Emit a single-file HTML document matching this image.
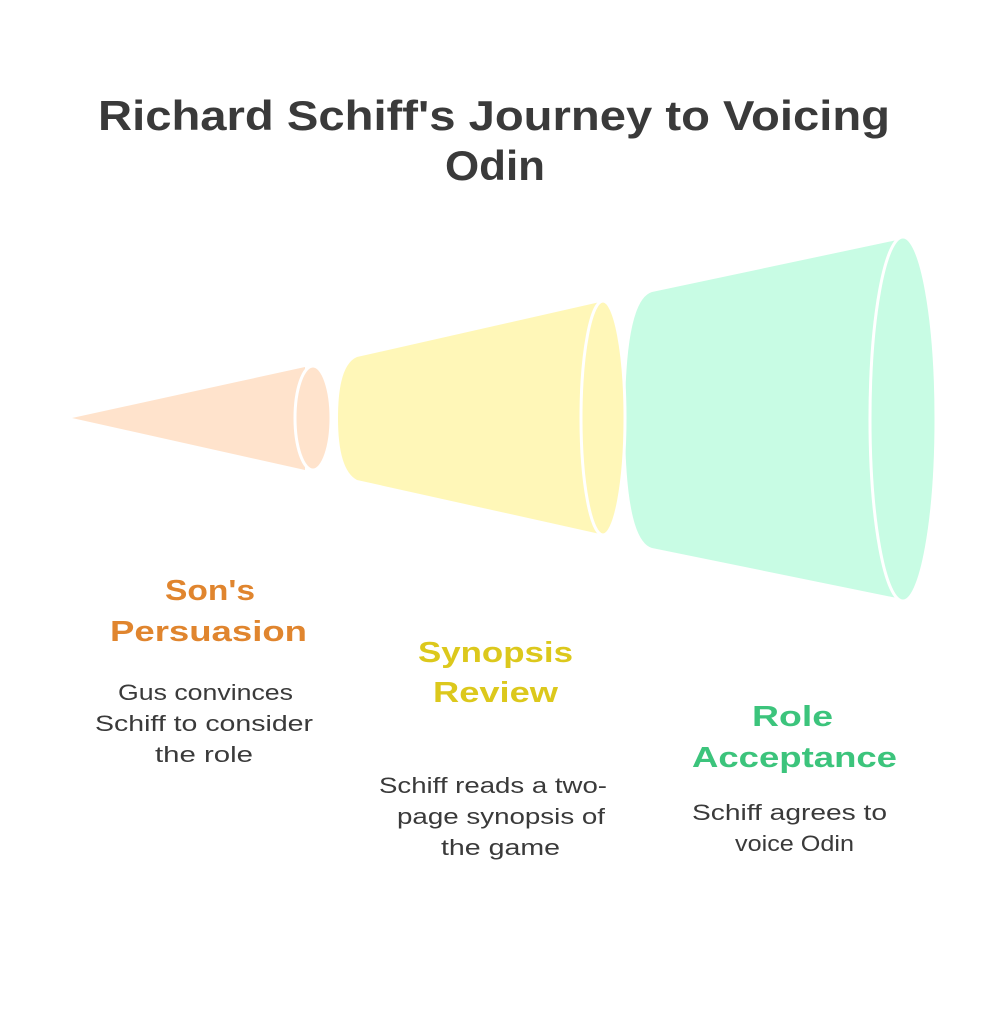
<!DOCTYPE html>
<html><head><meta charset="utf-8"><style>
html,body{margin:0;padding:0;background:#fff;}
svg{display:block;}
text{font-family:"Liberation Sans",sans-serif;}
.t{font-weight:bold;fill:#3a3a3a;font-size:42px;}
.h{font-weight:bold;font-size:29px;}
.b{fill:#3a3a3a;font-size:22px;}
</style></head><body>
<svg width="1003" height="1024" viewBox="0 0 1003 1024" xmlns="http://www.w3.org/2000/svg">
<rect width="1003" height="1024" fill="#fff"/>
<!-- cone 3 -->
<path d="M652,292 L897,240 L897,598 L652,548 Q625,540 625,420 Q625,300 652,292 Z" fill="#c8fce4"/>
<ellipse cx="903" cy="419" rx="33" ry="182" fill="#c8fce4" stroke="#fff" stroke-width="3"/>
<!-- cone 2 -->
<path d="M357,357 L600,302 L600,534 L357,480 Q338,470 338,418 Q338,365 357,357 Z" fill="#fff7b8"/>
<ellipse cx="603" cy="418" rx="22" ry="117" fill="#fff7b8" stroke="#fff" stroke-width="3"/>
<!-- cone 1 -->
<path d="M72,418 L305,367 L305,470 Z" fill="#ffe3cc"/>
<ellipse cx="313" cy="418" rx="18" ry="52" fill="#ffe3cc" stroke="#fff" stroke-width="3"/>
<!-- title -->
<text class="t" x="98" y="130" textLength="792" lengthAdjust="spacingAndGlyphs">Richard Schiff's Journey to Voicing</text>
<text class="t" x="445" y="180" textLength="100" lengthAdjust="spacingAndGlyphs">Odin</text>
<!-- labels -->
<text class="h" fill="#e0852e" x="165" y="600" textLength="90" lengthAdjust="spacingAndGlyphs">Son's</text>
<text class="h" fill="#e0852e" x="110" y="641" textLength="197" lengthAdjust="spacingAndGlyphs">Persuasion</text>
<text class="b" x="118" y="700" textLength="175" lengthAdjust="spacingAndGlyphs">Gus convinces</text>
<text class="b" x="95" y="731" textLength="218" lengthAdjust="spacingAndGlyphs">Schiff to consider</text>
<text class="b" x="155" y="762" textLength="98" lengthAdjust="spacingAndGlyphs">the role</text>

<text class="h" fill="#dcc81c" x="418" y="662" textLength="155" lengthAdjust="spacingAndGlyphs">Synopsis</text>
<text class="h" fill="#dcc81c" x="433" y="702" textLength="125" lengthAdjust="spacingAndGlyphs">Review</text>
<text class="b" x="379" y="793" textLength="228" lengthAdjust="spacingAndGlyphs">Schiff reads a two-</text>
<text class="b" x="397" y="824" textLength="208" lengthAdjust="spacingAndGlyphs">page synopsis of</text>
<text class="b" x="441" y="855" textLength="119" lengthAdjust="spacingAndGlyphs">the game</text>

<text class="h" fill="#3cc47c" x="752" y="726" textLength="81" lengthAdjust="spacingAndGlyphs">Role</text>
<text class="h" fill="#3cc47c" x="692" y="767" textLength="205" lengthAdjust="spacingAndGlyphs">Acceptance</text>
<text class="b" x="692" y="820" textLength="195" lengthAdjust="spacingAndGlyphs">Schiff agrees to</text>
<text class="b" x="735" y="851" textLength="119" lengthAdjust="spacingAndGlyphs">voice Odin</text>
</svg>
</body></html>
